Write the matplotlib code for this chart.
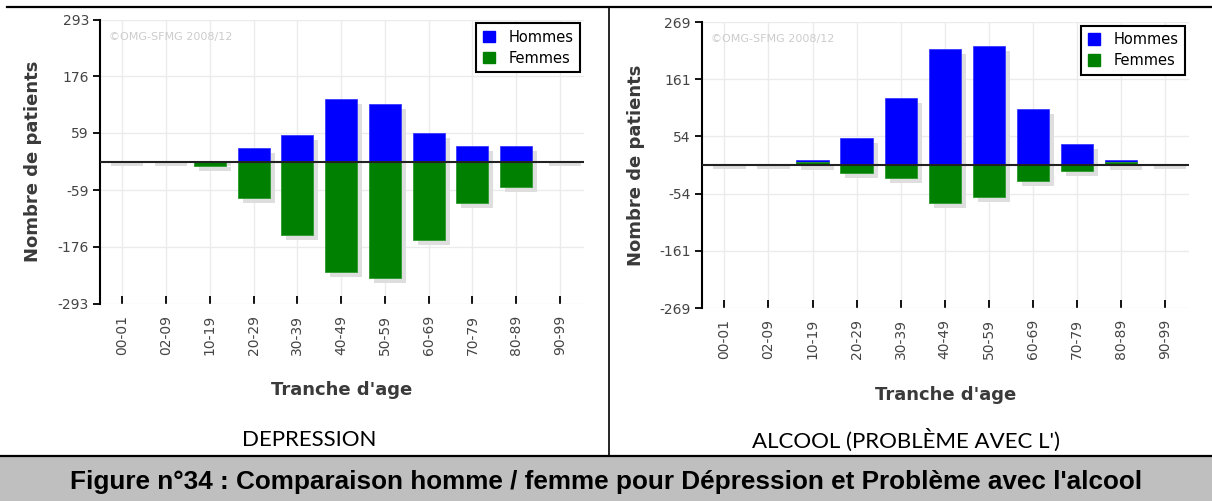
import numpy as np
import matplotlib
matplotlib.use("Agg")
import matplotlib.pyplot as plt
from matplotlib.patches import Patch, Rectangle
from matplotlib.lines import Line2D

ages = ["00-01", "02-09", "10-19", "20-29", "30-39", "40-49",
        "50-59", "60-69", "70-79", "80-89", "90-99"]

# Dépression (valeurs signées telles qu'affichées)
hommes_dep = [0, 0, 0, 28, 55, 128, 118, 58, 31, 31, 0]
femmes_dep = [0, 0, -10, -75, -151, -228, -241, -161, -85, -52, 0]
ticks_dep = [-293, -176, -59, 59, 176, 293]

# Alcool
hommes_alc = [0, 0, 9, 50, 126, 219, 224, 105, 40, 9, 0]
femmes_alc = [0, 0, 5, -15, -24, -71, -60, -30, -12, 5, 0]
ticks_alc = [-269, -161, -54, 54, 161, 269]

W, H = 1212, 501
BLUE, GREEN, SHADOW = "#0000ff", "#008000", "#dedede"
TXT = "#3a3a3a"

fig = plt.figure(figsize=(W / 100, H / 100), dpi=100)


def panel(rect_px, hommes, femmes, yticks, lab_x):
    left, top, width, height = rect_px
    ax = fig.add_axes([left / W, (H - top - height) / H, width / W, height / H])
    x = np.arange(len(ages))
    ymax = yticks[-1]
    xlim = (-0.51, 10.55)
    ax.set_xlim(*xlim)
    ax.set_ylim(-ymax, ymax)
    px = (xlim[1] - xlim[0]) / width
    py = 2 * ymax / height
    bw = 0.73

    # ombres portées
    for vals in (hommes, femmes):
        v = np.array(vals, dtype=float)
        zero = v == 0
        bottom = np.where(zero, 0, -5 * py)
        h = np.where(zero, -4 * py, v)
        ax.bar(x + 5 * px, h, bw, bottom=bottom, color=SHADOW, zorder=1)

    ax.bar(x, hommes, bw, color=BLUE, edgecolor="#3a3aff", linewidth=0.6, zorder=2)
    ax.bar(x, femmes, bw, color=GREEN, edgecolor="#2a9a2a", linewidth=0.6, zorder=2)
    ax.axhline(0, color="#222222", lw=1.5, zorder=4)

    ax.set_xticks(x)
    ax.set_xticklabels(ages, rotation=90)
    ax.set_yticks(yticks)
    ax.set_yticklabels([str(t) for t in yticks])
    ax.grid(True, color="#ebebeb", lw=1)
    ax.set_axisbelow(True)
    for s in ("top", "right", "bottom"):
        ax.spines[s].set_visible(False)
    ax.spines["left"].set_linewidth(1.5)
    ax.tick_params(axis="x", direction="in", length=6, width=1.3, pad=8,
                   labelsize=10, labelcolor="#444444")
    ax.tick_params(axis="y", direction="out", length=5, width=1.3, pad=3,
                   labelsize=10, labelcolor="#444444")

    ax.set_ylabel("Nombre de patients", fontsize=13, fontweight="bold", color=TXT)
    ax.yaxis.set_label_coords(lab_x, 0.5)
    ax.set_xlabel("Tranche d'age", fontsize=13, fontweight="bold", color=TXT)
    ax.xaxis.set_label_coords(0.5, -0.272)

    ax.text(0.018, 0.94, "\u00a9OMG-SFMG 2008/12", transform=ax.transAxes,
            fontsize=8, color="#cccccc", va="center")

    leg = ax.legend(handles=[Patch(color=BLUE, label="Hommes"),
                             Patch(color=GREEN, label="Femmes")],
                    loc="upper right", fontsize=10.5, frameon=True, fancybox=False,
                    edgecolor="black", framealpha=1, borderaxespad=0.25,
                    handlelength=0.85, handleheight=0.85, handletextpad=0.95,
                    labelspacing=0.4, borderpad=0.45)
    leg.get_frame().set_linewidth(1.5)
    return ax


panel((100, 19.5, 484, 284), hommes_dep, femmes_dep, ticks_dep, -0.12)
panel((702, 22, 487, 286), hommes_alc, femmes_alc, ticks_alc, -0.117)

# cadre du tableau
def fline(xs, ys, lw):
    fig.add_artist(Line2D([v / W for v in xs], [1 - v / H for v in ys],
                          color="black", lw=lw))

fline([7, W], [7, 7], 1.6)
fline([609, 609], [7, 456], 1.2)
fline([0, W], [456, 456], 1.6)
fig.add_artist(Rectangle((0, 0), 1, (H - 457) / H, transform=fig.transFigure,
                         color="#bfbfbf", zorder=0))

fig.text(309 / W, 1 - 440 / H, "DEPRESSION", family="Lato", fontsize=16,
         ha="center", va="center", color="black")
fig.text(906 / W, 1 - 440 / H, "ALCOOL (PROBLÈME AVEC L')", family="Lato",
         fontsize=16, ha="center", va="center", color="black")
fig.text(0.5, 1 - 482 / H,
         "Figure n°34 : Comparaison homme / femme pour Dépression et Problème avec l'alcool",
         family="Liberation Sans", fontweight="bold", fontsize=18.8,
         ha="center", va="center", color="black")

fig.savefig("out.png", dpi=100)
